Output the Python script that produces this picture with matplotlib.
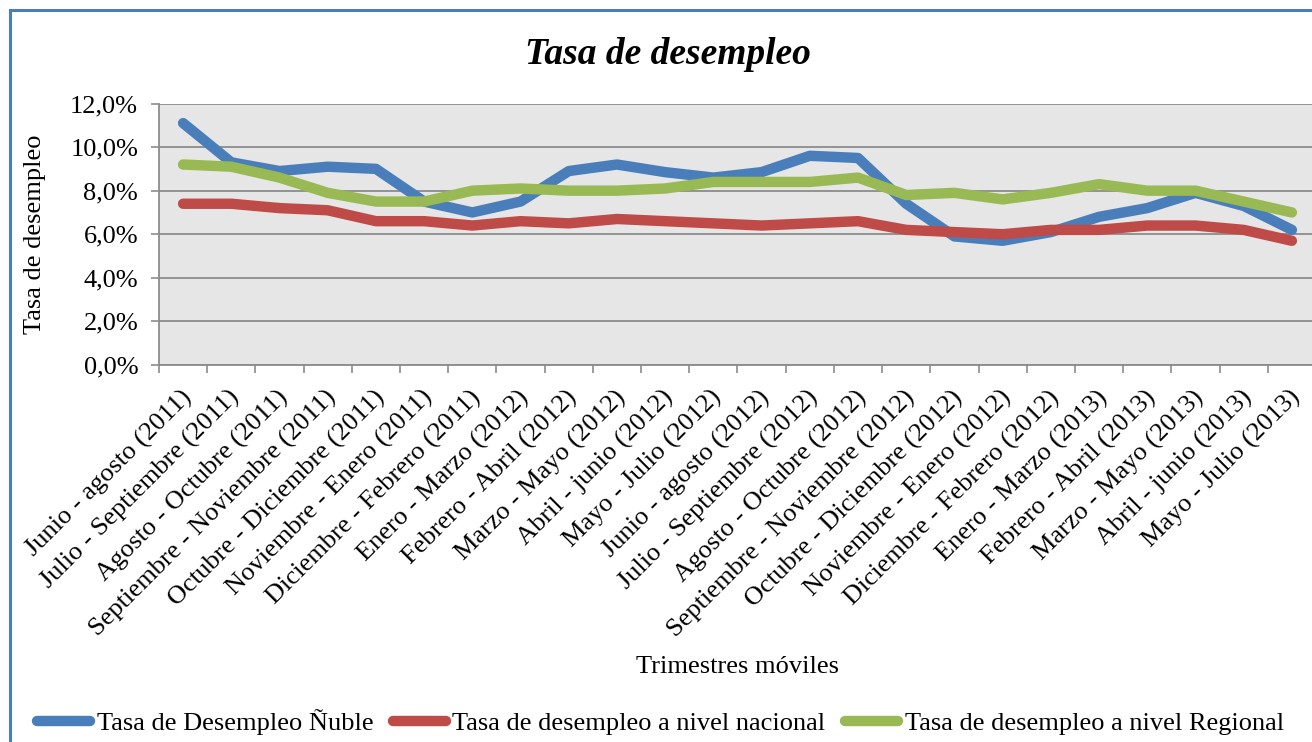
import matplotlib
matplotlib.use('Agg')
import matplotlib.pyplot as plt
from matplotlib.patches import Rectangle
from matplotlib.transforms import ScaledTranslation

periodos = ['Junio - agosto (2011)', 'Julio - Septiembre (2011)', 'Agosto - Octubre (2011)',
            'Septiembre - Noviembre (2011)', 'Octubre - Diciembre (2011)', 'Noviembre - Enero (2011)',
            'Diciembre - Febrero (2011)', 'Enero - Marzo (2012)', 'Febrero - Abril (2012)',
            'Marzo - Mayo (2012)', 'Abril - junio (2012)', 'Mayo - Julio (2012)',
            'Junio - agosto (2012)', 'Julio - Septiembre (2012)', 'Agosto - Octubre (2012)',
            'Septiembre - Noviembre (2012)', 'Octubre - Diciembre (2012)', 'Noviembre - Enero (2012)',
            'Diciembre - Febrero (2012)', 'Enero - Marzo (2013)', 'Febrero - Abril (2013)',
            'Marzo - Mayo (2013)', 'Abril - junio (2013)', 'Mayo - Julio (2013)']
nuble = [11.1, 9.3, 8.9, 9.1, 9.0, 7.5, 7.0, 7.5, 8.9, 9.2, 8.85, 8.6,
         8.85, 9.6, 9.5, 7.4, 5.9, 5.7, 6.1, 6.8, 7.2, 7.9, 7.3, 6.2]
nacional = [7.4, 7.4, 7.2, 7.1, 6.6, 6.6, 6.4, 6.6, 6.5, 6.7, 6.6, 6.5,
            6.4, 6.5, 6.6, 6.2, 6.1, 6.0, 6.2, 6.2, 6.4, 6.4, 6.2, 5.7]
regional = [9.2, 9.1, 8.6, 7.9, 7.5, 7.5, 8.0, 8.1, 8.0, 8.0, 8.1, 8.4,
            8.4, 8.4, 8.6, 7.8, 7.9, 7.6, 7.9, 8.3, 8.0, 8.0, 7.5, 7.0]
yticks = [0, 2, 4, 6, 8, 10, 12]
ytick_labels = ['0,0%', '2,0%', '4,0%', '6,0%', '8,0%', '10,0%', '12,0%']

plt.rcParams['font.family'] = 'Liberation Serif'
fs = 19

fig = plt.figure(figsize=(13.12, 7.42), dpi=100)
ax = fig.add_axes([159/1312, 1 - 365/742, 1157/1312, 261.5/742])
ax.set_facecolor('#e6e6e6')

x = list(range(len(periodos)))
ax.plot(x, nuble, color='#4a7ebb', lw=7.5, solid_capstyle='round', solid_joinstyle='round',
        label='Tasa de Desempleo Ñuble', zorder=3)
ax.plot(x, nacional, color='#be4b48', lw=7.5, solid_capstyle='round', solid_joinstyle='round',
        label='Tasa de desempleo a nivel nacional', zorder=3)
ax.plot(x, regional, color='#98b954', lw=7.5, solid_capstyle='round', solid_joinstyle='round',
        label='Tasa de desempleo a nivel Regional', zorder=3)

ax.set_xlim(-0.5, len(periodos) - 0.5)
ax.set_ylim(0, 12)
ax.set_yticks(yticks)
ax.set_yticklabels(ytick_labels, fontsize=fs)
ax.yaxis.grid(True, color='#8c8c8c', lw=1.3)
ax.set_axisbelow(True)
ax.tick_params(axis='y', length=6, color='#8c8c8c', width=1.2, pad=9)

ax.set_xticks(x)
ax.set_xticklabels(periodos, rotation=45, ha='right', va='center', rotation_mode='anchor', fontsize=fs)
ax.set_xticks([i - 0.5 for i in range(len(periodos) + 1)], minor=True)
ax.tick_params(axis='x', which='major', length=0, pad=21)
ax.tick_params(axis='x', which='minor', length=6, color='#8c8c8c', width=1.2)
for lab in ax.get_xticklabels():
    lab.set_transform(lab.get_transform() + ScaledTranslation(0.05, 0, fig.dpi_scale_trans))

for s in ['top', 'right']:
    ax.spines[s].set_visible(False)
for s in ['left', 'bottom']:
    ax.spines[s].set_color('#8c8c8c')
    ax.spines[s].set_linewidth(1.3)

fig.text(35/1312, 1 - 234/742, 'Tasa de desempleo', fontsize=fs, rotation=90, ha='center', va='center')
fig.text(738/1312, 1 - 667/742, 'Trimestres móviles', fontsize=fs, ha='center', va='center')
fig.text(668/1312, 1 - 55/742, 'Tasa de desempleo', fontsize=27, fontweight='bold',
         fontstyle='italic', ha='center', va='center')

fig.legend(loc='center left', bbox_to_anchor=(24/1312, 1 - 722/742), ncol=3, frameon=False,
           fontsize=fs, handlelength=2.0, handletextpad=0.25, columnspacing=0.75, borderpad=0)

fig.patches.append(Rectangle((10/1312, -0.1), 1.2, 1 - 10/742 + 0.1, transform=fig.transFigure,
                             fill=False, edgecolor='#4a7ebb', lw=2.2))

fig.savefig('out.png', dpi=100)
